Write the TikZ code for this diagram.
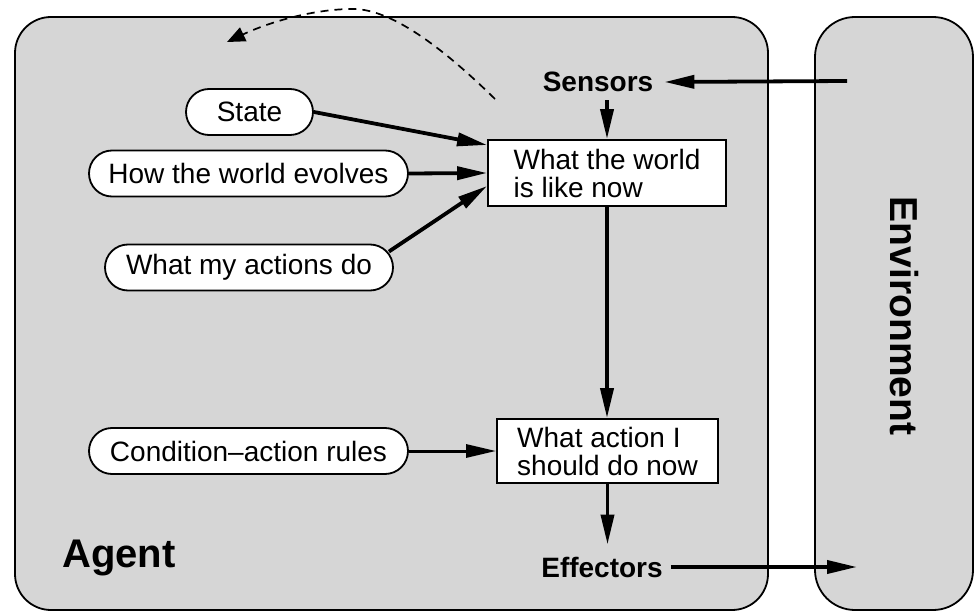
\documentclass[tikz,border=0pt]{standalone}
\usepackage{fontspec}
\setmainfont{Liberation Sans}
\usetikzlibrary{arrows.meta}
\definecolor{panel}{RGB}{214,214,214}
\begin{document}
\begin{tikzpicture}[x=1pt,y=-1pt,
  every node/.style={font=\fontsize{28}{28}\selectfont},
  panelbox/.style={draw=black, line width=1.8pt, fill=panel, rounded corners=#1},
  oval/.style={draw, line width=1.8pt, fill=white, rounded corners=23pt,
               minimum height=46pt, inner sep=0pt},
  statebox/.style={draw, line width=1.8pt, fill=white, align=left, inner sep=0pt},
  flow/.style={line width=3.8pt, -{Triangle[length=30pt,width=13pt]}},
  port/.style={font=\fontsize{28}{28}\selectfont\bfseries},
  feedback/.style={line width=1.7pt, dash pattern=on 8pt off 6pt,
                   -{Triangle[length=18pt,width=15pt]}},
]
\useasboundingbox (0,0) rectangle (977,612);

% agent and environment panels
\path[panelbox=36pt] (15,17) rectangle (768,610);
\path[panelbox=40pt] (815,17) rectangle (973,610);

% internal state and knowledge
\node[oval, minimum width=127pt] (state) at (249.5,112) {State};
\node[oval, minimum width=319pt] (evolve) at (248.5,173.5) {How the world evolves};
\node[oval, minimum width=288pt] (actions) at (249,267.5) {What my actions do};
\node[oval, minimum width=319pt] (rules) at (248.5,451) {Condition--action rules};

% processing boxes
\node[statebox, minimum width=238pt, minimum height=66pt] (world) at (607,173)
  {What the world\\is like now};
\node[statebox, minimum width=221pt, minimum height=64pt] (decide) at (607.5,451)
  {What action I\\should do now};

% sensors and effectors
\node[port, inner xsep=11pt, inner ysep=8pt] (sensors) at (598,82) {Sensors};
\node[port, inner xsep=8pt, inner ysep=12pt] (effectors) at (602,567) {Effectors};

% labels
\node[font=\fontsize{40}{40}\selectfont\bfseries, anchor=base west, inner sep=0pt]
  (agent) at (62,567) {Agent};
\node[font=\fontsize{39}{39}\selectfont\bfseries, rotate=-90, inner sep=0pt]
  (env) at (904,316) {Environment};

% free ends inside the environment
\coordinate (percept) at (847,81);
\coordinate (act) at (857,567);

% connectors
\draw[flow] (percept) -- (sensors.east);
\draw[flow] (sensors.south -| world.north) -- (world.north);
\draw[flow] (state.east) -- ([yshift=28pt]world.west);
\draw[flow] (evolve.east) -- (world.west);
\draw[flow] ([xshift=-5pt,yshift=-8pt]actions.north east) -- ([yshift=-13pt]world.west);
\draw[flow] (world.south) -- (world.south |- decide.north);
\draw[flow, line width=3pt] (rules.east) -- (decide.west);
\draw[flow] (decide.south) -- (decide.south |- effectors.north);
\draw[flow] (effectors.east) -- (act);

% dashed feedback loop
\coordinate (loopstart) at (495,99);
\coordinate (looptop) at (353,9);
\coordinate (loopend) at (227,42);
\draw[feedback] (loopstart) .. controls (450,55) and (395,9) .. (looptop)
  .. controls (310,9) and (265,24) .. (loopend);
\end{tikzpicture}
\end{document}
